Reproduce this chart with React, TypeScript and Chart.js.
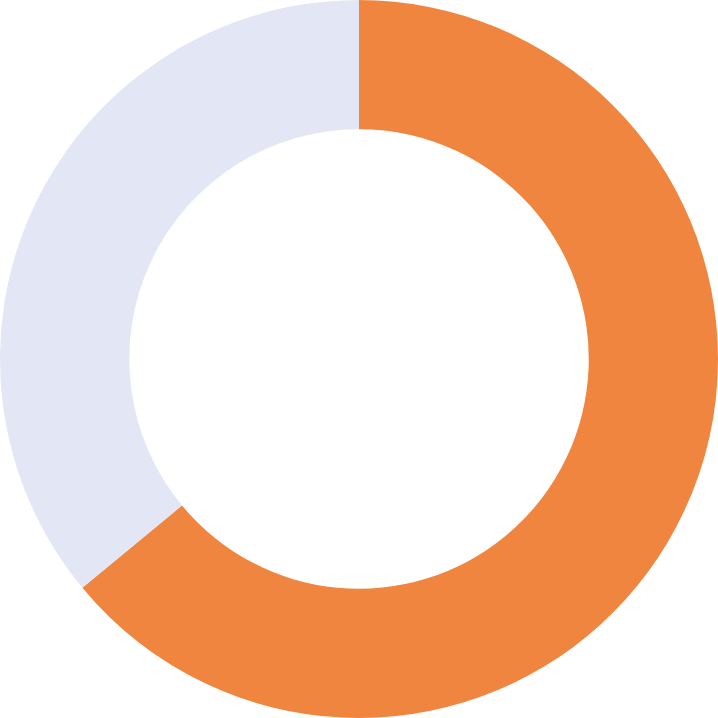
import React, { useEffect, useRef } from "react";
import { Chart, registerables } from "chart.js";

Chart.register(...registerables);

const labels = ["Completed", "Remaining"];
const values = [64, 36];
const colors = ["#F0853F", "#E3E6F4"];

export default function App() {
  const ref = useRef<HTMLCanvasElement | null>(null);
  useEffect(() => {
    document.body.style.margin = "0";
    const chart = new Chart(ref.current!, {
      type: "doughnut",
      data: {
        labels,
        datasets: [
          {
            data: values,
            backgroundColor: colors,
            borderWidth: 0,
          },
        ],
      },
      options: {
        animation: false,
        responsive: true,
        maintainAspectRatio: false,
        cutout: "64%",
        layout: { padding: 0 },
        plugins: {
          legend: { display: false },
          tooltip: { enabled: false },
        },
      },
    });
    return () => chart.destroy();
  }, []);
  return (
    <div style={{ position: "fixed", left: 0, top: 0, width: 718, height: 718 }}>
      <canvas ref={ref} />
    </div>
  );
}
